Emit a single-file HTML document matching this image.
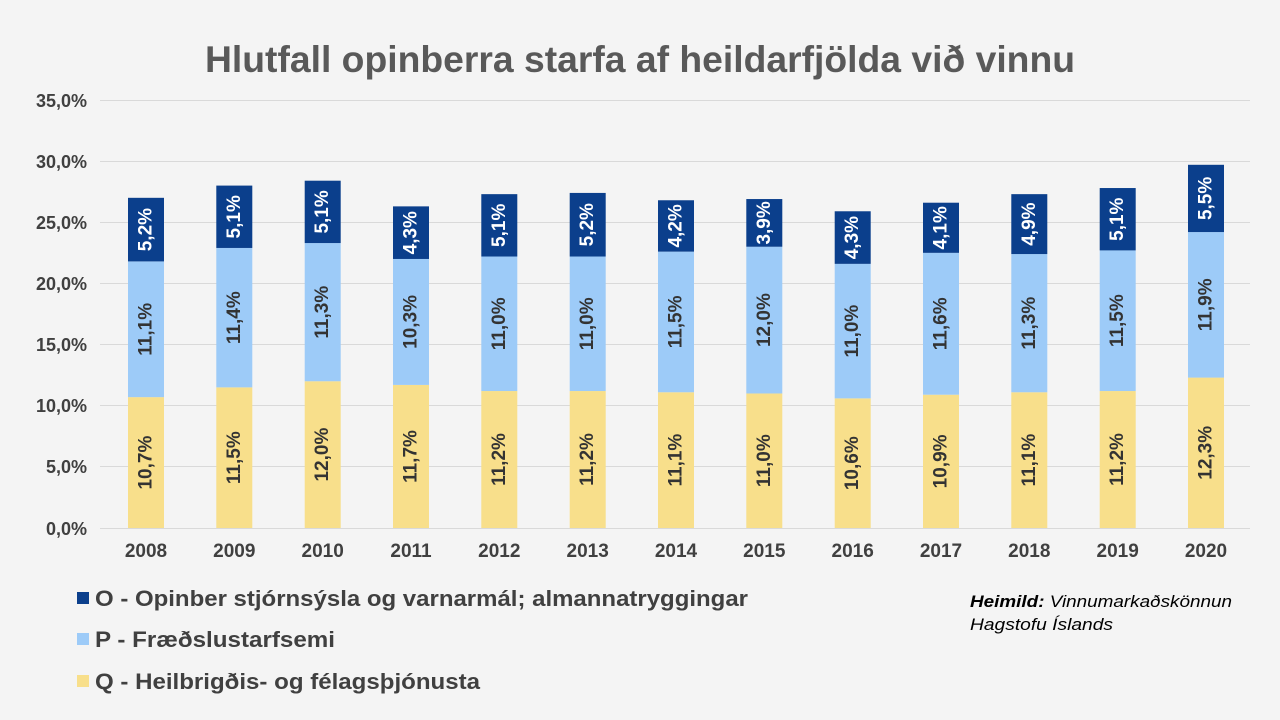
<!DOCTYPE html>
<html><head><meta charset="utf-8"><style>
html,body{margin:0;padding:0;background:#f4f4f4;}
svg{display:block;font-family:"Liberation Sans",Arial,sans-serif;}
</style></head><body>
<svg width="1280" height="720" viewBox="0 0 1280 720">
<rect width="1280" height="720" fill="#f4f4f4"/>
<text x="205" y="72" font-size="37" font-weight="bold" fill="#595959" textLength="870" lengthAdjust="spacingAndGlyphs">Hlutfall opinberra starfa af heildarfjölda við vinnu</text>
<g stroke="#d9d9d9" stroke-width="1">
<line x1="100" x2="1250" y1="100.5" y2="100.5"/><line x1="100" x2="1250" y1="161.5" y2="161.5"/>
<line x1="100" x2="1250" y1="222.5" y2="222.5"/><line x1="100" x2="1250" y1="283.5" y2="283.5"/>
<line x1="100" x2="1250" y1="344.5" y2="344.5"/><line x1="100" x2="1250" y1="405.5" y2="405.5"/>
<line x1="100" x2="1250" y1="466.5" y2="466.5"/><line x1="100" x2="1250" y1="528.5" y2="528.5"/>
</g>
<g font-size="18" font-weight="bold" fill="#404040" text-anchor="end">
<text x="87" y="107">35,0%</text><text x="87" y="168">30,0%</text><text x="87" y="229">25,0%</text>
<text x="87" y="290">20,0%</text><text x="87" y="351">15,0%</text><text x="87" y="412">10,0%</text>
<text x="87" y="473">5,0%</text><text x="87" y="535">0,0%</text>
</g>
<g transform="matrix(1,0,0,-12.229,0,528)">
<g fill="#f8df8b">
<rect x="128" y="0" width="36" height="10.7"/><rect x="216.3" y="0" width="36" height="11.5"/>
<rect x="304.7" y="0" width="36" height="12.0"/><rect x="393" y="0" width="36" height="11.7"/>
<rect x="481.3" y="0" width="36" height="11.2"/><rect x="569.7" y="0" width="36" height="11.2"/>
<rect x="658" y="0" width="36" height="11.1"/><rect x="746.3" y="0" width="36" height="11.0"/>
<rect x="834.7" y="0" width="36" height="10.6"/><rect x="923" y="0" width="36" height="10.9"/>
<rect x="1011.3" y="0" width="36" height="11.1"/><rect x="1099.7" y="0" width="36" height="11.2"/>
<rect x="1188" y="0" width="36" height="12.3"/>
</g>
<g fill="#9dcbf8">
<rect x="128" y="10.7" width="36" height="11.1"/><rect x="216.3" y="11.5" width="36" height="11.4"/>
<rect x="304.7" y="12.0" width="36" height="11.3"/><rect x="393" y="11.7" width="36" height="10.3"/>
<rect x="481.3" y="11.2" width="36" height="11.0"/><rect x="569.7" y="11.2" width="36" height="11.0"/>
<rect x="658" y="11.1" width="36" height="11.5"/><rect x="746.3" y="11.0" width="36" height="12.0"/>
<rect x="834.7" y="10.6" width="36" height="11.0"/><rect x="923" y="10.9" width="36" height="11.6"/>
<rect x="1011.3" y="11.1" width="36" height="11.3"/><rect x="1099.7" y="11.2" width="36" height="11.5"/>
<rect x="1188" y="12.3" width="36" height="11.9"/>
</g>
<g fill="#0b3f8c">
<rect x="128" y="21.8" width="36" height="5.2"/><rect x="216.3" y="22.9" width="36" height="5.1"/>
<rect x="304.7" y="23.3" width="36" height="5.1"/><rect x="393" y="22.0" width="36" height="4.3"/>
<rect x="481.3" y="22.2" width="36" height="5.1"/><rect x="569.7" y="22.2" width="36" height="5.2"/>
<rect x="658" y="22.6" width="36" height="4.2"/><rect x="746.3" y="23.0" width="36" height="3.9"/>
<rect x="834.7" y="21.6" width="36" height="4.3"/><rect x="923" y="22.5" width="36" height="4.1"/>
<rect x="1011.3" y="22.4" width="36" height="4.9"/><rect x="1099.7" y="22.7" width="36" height="5.1"/>
<rect x="1188" y="24.2" width="36" height="5.5"/>
</g>
</g>
<g font-size="19" font-weight="bold" text-anchor="middle" dominant-baseline="central" fill="#333">
<text transform="translate(146,462.6) rotate(-90)">10,7%</text>
<text transform="translate(234.3,457.7) rotate(-90)">11,5%</text>
<text transform="translate(322.7,454.6) rotate(-90)">12,0%</text>
<text transform="translate(411,456.5) rotate(-90)">11,7%</text>
<text transform="translate(499.3,459.5) rotate(-90)">11,2%</text>
<text transform="translate(587.7,459.5) rotate(-90)">11,2%</text>
<text transform="translate(676,460.1) rotate(-90)">11,1%</text>
<text transform="translate(764.3,460.7) rotate(-90)">11,0%</text>
<text transform="translate(852.7,463.2) rotate(-90)">10,6%</text>
<text transform="translate(941,461.4) rotate(-90)">10,9%</text>
<text transform="translate(1029.3,460.1) rotate(-90)">11,1%</text>
<text transform="translate(1117.7,459.5) rotate(-90)">11,2%</text>
<text transform="translate(1206,452.8) rotate(-90)">12,3%</text>
<text transform="translate(146,329.3) rotate(-90)">11,1%</text>
<text transform="translate(234.3,317.7) rotate(-90)">11,4%</text>
<text transform="translate(322.7,312.2) rotate(-90)">11,3%</text>
<text transform="translate(411,321.9) rotate(-90)">10,3%</text>
<text transform="translate(499.3,323.8) rotate(-90)">11,0%</text>
<text transform="translate(587.7,323.8) rotate(-90)">11,0%</text>
<text transform="translate(676,321.9) rotate(-90)">11,5%</text>
<text transform="translate(764.3,320.1) rotate(-90)">12,0%</text>
<text transform="translate(852.7,331.1) rotate(-90)">11,0%</text>
<text transform="translate(941,323.8) rotate(-90)">11,6%</text>
<text transform="translate(1029.3,323.2) rotate(-90)">11,3%</text>
<text transform="translate(1117.7,320.7) rotate(-90)">11,5%</text>
<text transform="translate(1206,304.8) rotate(-90)">11,9%</text>
</g>
<g font-size="19" font-weight="bold" text-anchor="middle" dominant-baseline="central" fill="#ffffff">
<text transform="translate(146,229.6) rotate(-90)">5,2%</text>
<text transform="translate(234.3,216.8) rotate(-90)">5,1%</text>
<text transform="translate(322.7,211.9) rotate(-90)">5,1%</text>
<text transform="translate(411,232.7) rotate(-90)">4,3%</text>
<text transform="translate(499.3,225.3) rotate(-90)">5,1%</text>
<text transform="translate(587.7,224.7) rotate(-90)">5,2%</text>
<text transform="translate(676,225.9) rotate(-90)">4,2%</text>
<text transform="translate(764.3,222.9) rotate(-90)">3,9%</text>
<text transform="translate(852.7,237.6) rotate(-90)">4,3%</text>
<text transform="translate(941,227.8) rotate(-90)">4,1%</text>
<text transform="translate(1029.3,224.1) rotate(-90)">4,9%</text>
<text transform="translate(1117.7,219.2) rotate(-90)">5,1%</text>
<text transform="translate(1206,198.4) rotate(-90)">5,5%</text>
</g>
<g font-size="19" font-weight="bold" fill="#404040" text-anchor="middle">
<text x="146" y="557">2008</text><text x="234.3" y="557">2009</text><text x="322.7" y="557">2010</text>
<text x="411" y="557">2011</text><text x="499.3" y="557">2012</text><text x="587.7" y="557">2013</text>
<text x="676" y="557">2014</text><text x="764.3" y="557">2015</text><text x="852.7" y="557">2016</text>
<text x="941" y="557">2017</text><text x="1029.3" y="557">2018</text><text x="1117.7" y="557">2019</text>
<text x="1206" y="557">2020</text>
</g>
<rect x="77" y="592" width="12" height="12" fill="#0b3f8c"/>
<rect x="77" y="633" width="12" height="12" fill="#9dcbf8"/>
<rect x="77" y="675" width="12" height="12" fill="#f8df8b"/>
<g font-size="22" font-weight="bold" fill="#404040">
<text x="95" y="606" textLength="653" lengthAdjust="spacingAndGlyphs">O - Opinber stjórnsýsla og varnarmál; almannatryggingar</text>
<text x="95" y="647" textLength="240" lengthAdjust="spacingAndGlyphs">P - Fræðslustarfsemi</text>
<text x="95" y="689" textLength="385" lengthAdjust="spacingAndGlyphs">Q - Heilbrigðis- og félagsþjónusta</text>
</g>
<g font-size="17" font-style="italic" fill="#000">
<text x="970" y="607" textLength="262" lengthAdjust="spacingAndGlyphs"><tspan font-weight="bold">Heimild:</tspan> Vinnumarkaðskönnun</text>
<text x="970" y="630" textLength="143" lengthAdjust="spacingAndGlyphs">Hagstofu Íslands</text>
</g>
</svg>
</body></html>
